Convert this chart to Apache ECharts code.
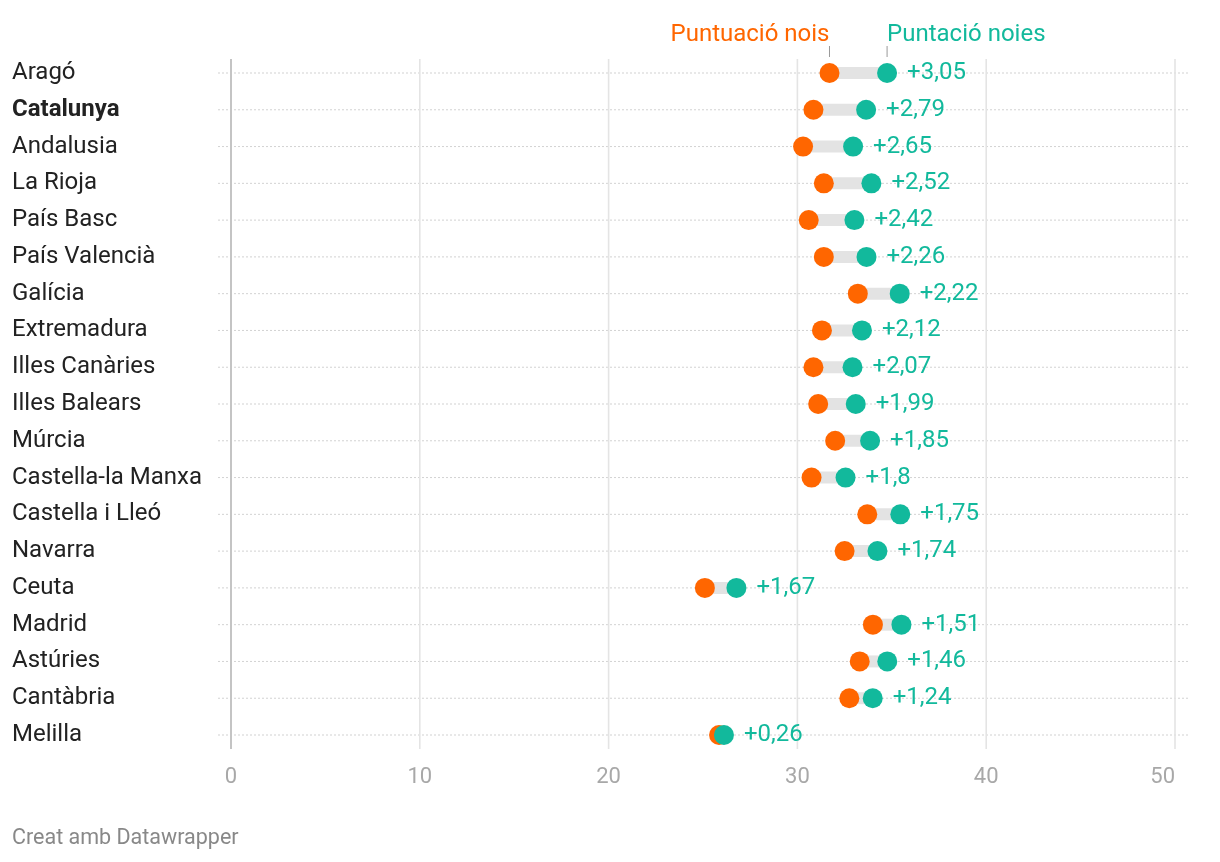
<!DOCTYPE html>
<html>
<head>
<meta charset="utf-8">
<script src="https://cdn.jsdelivr.net/npm/echarts@6/dist/echarts.min.js"></script>
<style>
html,body{margin:0;padding:0;background:#fff;}
#chart{width:1220px;height:862px;}
</style>
</head>
<body>
<div id="chart"></div>
<script>
const regions = ["Aragó","Catalunya","Andalusia","La Rioja","País Basc","País Valencià","Galícia","Extremadura","Illes Canàries","Illes Balears","Múrcia","Castella-la Manxa","Castella i Lleó","Navarra","Ceuta","Madrid","Astúries","Cantàbria","Melilla"];
const boysScores = [31.7,30.85,30.3,31.4,30.6,31.4,33.2,31.3,30.85,31.1,32.0,30.75,33.7,32.5,25.1,34.0,33.3,32.75,25.85];
const girlsScores = [34.75,33.64,32.95,33.92,33.02,33.66,35.42,33.42,32.92,33.09,33.85,32.55,35.45,34.24,26.77,35.51,34.76,33.99,26.11];
const diffLabels = ["+3,05","+2,79","+2,65","+2,52","+2,42","+2,26","+2,22","+2,12","+2,07","+1,99","+1,85","+1,8","+1,75","+1,74","+1,67","+1,51","+1,46","+1,24","+0,26"];
const xTicks = [0,10,20,30,40,50];
const boldRegion = "Catalunya";
const boysName = "Puntuació nois";
const girlsName = "Puntació noies";
const footer = "Creat amb Datawrapper";

const ORANGE = "#ff6600";
const TEAL = "#12b99c";
const FONT = "Roboto";

const chart = echarts.init(document.getElementById('chart'));

const gridData = xTicks.map(t => [t]);
const barData = regions.map((r,i) => [boysScores[i], girlsScores[i], i]);

const option = {
  animation: false,
  textStyle: {fontFamily: FONT},
  title: {
    text: footer, left: 12, top: 828, padding: 0,
    textStyle: {fontFamily: FONT, fontSize: 21.5, fontWeight: 'normal', color: '#888'}
  },
  grid: {left: 231, right: 45, top: 73, bottom: 127},
  xAxis: {
    type: 'value', min: 0, max: 50, interval: 10,
    axisLine: {show: false}, axisTick: {show: false}, splitLine: {show: false},
    axisLabel: {fontFamily: FONT, fontSize: 22, color: '#a8a8a8', margin: 31, alignMaxLabel: 'right'}
  },
  yAxis: {
    type: 'category', data: regions, inverse: true, boundaryGap: false,
    axisLine: {show: false}, axisTick: {show: false}, splitLine: {show: false},
    axisLabel: {
      align: 'left', margin: 219, fontFamily: FONT, fontSize: 24, color: '#222',
      formatter: v => v === boldRegion ? '{b|' + v + '}' : v,
      rich: {b: {fontFamily: FONT, fontSize: 24, fontWeight: 'bold', color: '#222'}}
    }
  },
  series: [
    {
      type: 'custom', silent: true, z: 1,
      data: regions.map((r,i) => [i]),
      renderItem: (params, api) => {
        const i = api.value(0);
        const a = api.coord([0, i]);
        const b = api.coord([50, i]);
        return {type: 'line', shape: {x1: a[0]-13, y1: a[1], x2: b[0]+13, y2: b[1]},
          style: {stroke: '#d2d2d2', lineWidth: 1, lineDash: [2, 2]}};
      }
    },
    {
      type: 'custom', silent: true, z: 2,
      data: gridData,
      renderItem: (params, api) => {
        const t = api.value(0);
        const top = api.coord([t, 0]);
        const bot = api.coord([t, regions.length - 1]);
        return {type: 'line', shape: {x1: top[0], y1: top[1]-14, x2: bot[0], y2: bot[1]+14},
          style: {stroke: t === 0 ? '#c4c4c4' : '#e4e4e4', lineWidth: t === 0 ? 2 : 1.6}};
      }
    },
    {
      type: 'custom', silent: true, z: 3,
      data: barData,
      renderItem: (params, api) => {
        const a = api.coord([api.value(0), api.value(2)]);
        const b = api.coord([api.value(1), api.value(2)]);
        return {type: 'line', shape: {x1: a[0], y1: a[1], x2: b[0], y2: b[1]},
          style: {stroke: '#e3e3e3', lineWidth: 12}};
      }
    },
    {
      name: boysName, type: 'scatter', z: 4, symbolSize: 20,
      itemStyle: {color: ORANGE, opacity: 1},
      data: boysScores.map((v,i) => [v, i])
    },
    {
      name: girlsName, type: 'scatter', z: 5, symbolSize: 20,
      itemStyle: {color: TEAL, opacity: 1},
      label: {
        show: true, position: 'right', distance: 10,
        formatter: p => diffLabels[p.dataIndex],
        fontFamily: FONT, fontSize: 24, color: TEAL
      },
      data: girlsScores.map((v,i) => [v, i])
    },
    {
      type: 'custom', silent: true, z: 6,
      data: [[boysScores[0], girlsScores[0]]],
      renderItem: (params, api) => {
        const a = api.coord([api.value(0), 0]);
        const b = api.coord([api.value(1), 0]);
        return {type: 'group', children: [
          {type: 'line', shape: {x1: a[0], y1: a[1]-27, x2: a[0], y2: a[1]-16}, style: {stroke: '#999', lineWidth: 1}},
          {type: 'line', shape: {x1: b[0], y1: b[1]-27, x2: b[0], y2: b[1]-16}, style: {stroke: '#999', lineWidth: 1}},
          {type: 'text', x: a[0], y: a[1]-38, style: {text: boysName, fill: ORANGE, font: '24px ' + FONT, textAlign: 'right', textVerticalAlign: 'middle'}},
          {type: 'text', x: b[0], y: b[1]-38, style: {text: girlsName, fill: TEAL, font: '24px ' + FONT, textAlign: 'left', textVerticalAlign: 'middle'}}
        ]};
      }
    }
  ]
};
chart.setOption(option);
</script>
</body>
</html>
